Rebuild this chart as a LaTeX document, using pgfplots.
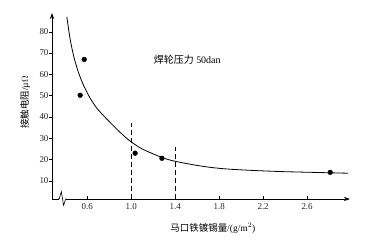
\documentclass[border=0pt]{standalone}
\usepackage{pgfplots}
\pgfplotsset{compat=1.18}
\usetikzlibrary{arrows.meta}
\usepackage{fontspec}
\setmainfont{Liberation Serif}
\newfontfamily\cjk{Noto Sans CJK SC}
\begin{document}
\begin{tikzpicture}
\path[use as bounding box] (-52bp,-42bp) rectangle (313bp,199bp);
\begin{axis}[
  at={(0,0)}, anchor=south west,
  scale only axis, width=298bp, height=186bp,
  xmin=0.28, xmax=2.99, ymin=1.5, ymax=88.8,
  axis lines=left,
  every outer x axis line/.append style={-{Stealth[length=6pt,width=4pt]}},
  every outer y axis line/.append style={-{Stealth[length=6pt,width=4pt]}},
  axis line style={line width=0.6pt},
  xtick={0.6,1.0,1.4,1.8,2.2,2.6},
  ytick={10,20,30,40,50,60,70,80},
  xticklabel style={/pgf/number format/fixed, /pgf/number format/fixed zerofill, /pgf/number format/precision=1},
  /pgf/number format/assume math mode=true,
  tick label style={font=\fontsize{9}{10}\selectfont, text=black!85},
  tick align=inside,
  x tick style={black, line width=0.5pt},
  y tick style={black, line width=0.5pt, xshift=-3pt},
  major tick length=3pt,
  xticklabel shift=1pt,
  xlabel={{\cjk 马口铁镀锡量}/(g/m$^2$)},
  ylabel={{\cjk 接触电阻}/\textmu\(\Omega\)},
  xlabel style={at={(axis description cs:0.54,-0.11)}, anchor=north, font=\fontsize{9.5}{10}\selectfont},
  ylabel style={at={(axis description cs:-0.09,0.52)}, anchor=center, font=\fontsize{9.5}{10}\selectfont},
  clip=false,
]
\addplot[black, line width=0.8pt, smooth] coordinates {
(0.415,87) (0.445,76.5) (0.48,68) (0.52,61) (0.566,55) (0.627,48.8) (0.69,44)
(0.764,39.8) (0.855,35) (0.92,31.8) (0.99,28.7) (1.1,25) (1.28,21) (1.4,19.2)
(1.63,17) (1.8,15.9) (1.99,15.2) (2.35,14.4) (2.81,13.8) (2.97,13.6)};
\addplot[black, line width=0.6pt, dash pattern=on 5pt off 3pt] coordinates {(1.0,1.5) (1.0,37)};
\addplot[black, line width=0.6pt, dash pattern=on 5pt off 3pt] coordinates {(1.4,1.5) (1.4,26)};
\addplot[only marks, mark=*, mark size=2.4pt, black] coordinates {
(0.573,67) (0.536,50.2) (1.036,23) (1.28,20.6) (2.81,14)};
\node[font=\fontsize{10}{11}\selectfont] at (axis cs:1.51,67) {{\cjk 焊轮压力} 50dan};
\coordinate (b1) at (axis cs:0.345,1.5);
\coordinate (b2) at (axis cs:0.365,5.0);
\coordinate (b3) at (axis cs:0.385,-1.5);
\coordinate (b4) at (axis cs:0.405,1.5);
\end{axis}
\draw[white, line width=2pt] (b1) -- (b4);
\draw[black, line width=0.6pt] ([xshift=-1pt]b1) -- (b1) -- (b2) -- (b3) -- (b4) -- ([xshift=1pt]b4);
\end{tikzpicture}
\end{document}
